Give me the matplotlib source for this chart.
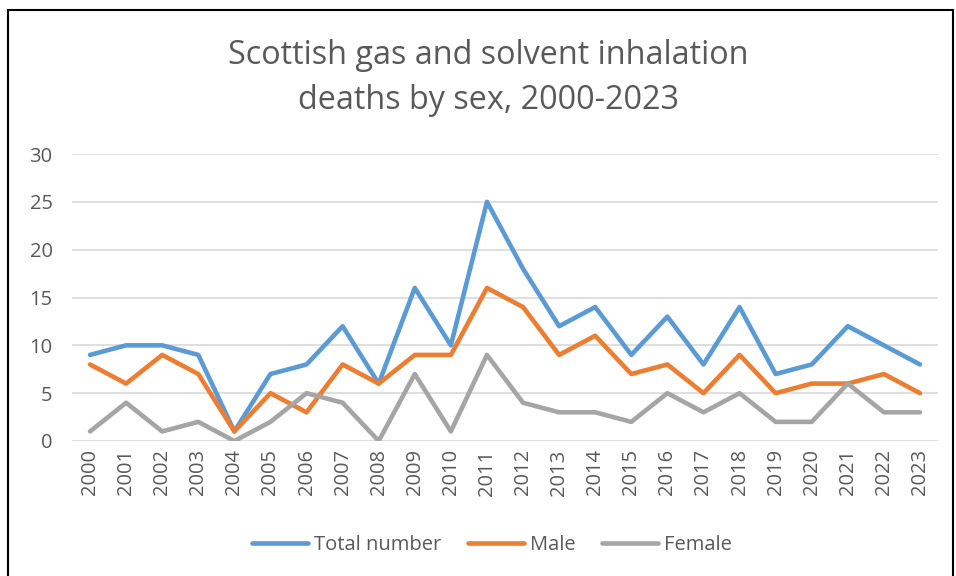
import matplotlib
matplotlib.use("Agg")
import matplotlib.pyplot as plt
from matplotlib.patches import Rectangle

years = [str(y) for y in range(2000, 2024)]
total = [9, 10, 10, 9, 1, 7, 8, 12, 6, 16, 10, 25, 18, 12, 14, 9, 13, 8, 14, 7, 8, 12, 10, 8]
male = [8, 6, 9, 7, 1, 5, 3, 8, 6, 9, 9, 16, 14, 9, 11, 7, 8, 5, 9, 5, 6, 6, 7, 5]
female = [1, 4, 1, 2, 0, 2, 5, 4, 0, 7, 1, 9, 4, 3, 3, 2, 5, 3, 5, 2, 2, 6, 3, 3]
yticks = [0, 5, 10, 15, 20, 25, 30]

plt.rcParams['font.family'] = ['Open Sans', 'DejaVu Sans']
W, H = 956, 576
fig = plt.figure(figsize=(W / 100, H / 100), dpi=100)
ax = fig.add_axes([72 / W, 1 - 441 / H, (938 - 72) / W, (441 - 154) / H])

x = list(range(len(years)))
kw = dict(lw=3.3, solid_joinstyle='round', solid_capstyle='round')
ax.plot(x, total, color='#5B9BD5', label='Total number', **kw)
ax.plot(x, male, color='#ED7D31', label='Male', **kw)
ax.plot(x, female, color='#A5A5A5', label='Female', **kw)

ax.set_xlim(-0.5, len(years) - 0.5)
ax.set_ylim(0, 30)
ax.set_yticks(yticks)
ax.set_xticks(x)
ax.set_xticklabels(years, rotation=90)
ax.tick_params(axis='both', length=0, labelsize=14.5, colors='#595959')
ax.tick_params(axis='y', pad=14)
ax.tick_params(axis='x', pad=6)
ax.grid(axis='y', color='#D9D9D9', lw=1.2)
ax.set_axisbelow(True)
for s in ax.spines.values():
    s.set_visible(False)

fig.text(488 / W, 1 - 78 / H, 'Scottish gas and solvent inhalation\ndeaths by sex, 2000-2023',
         ha='center', va='center', fontsize=23.3, color='#595959', linespacing=1.5)

leg = fig.legend(loc='center', bbox_to_anchor=(492 / W, 1 - 545 / H), ncol=3, frameon=False,
                 fontsize=14.5, handlelength=2.8, columnspacing=1.3, handletextpad=0.3)
for t in leg.get_texts():
    t.set_color('#595959')

fig.patches.append(Rectangle((8 / W, -0.01), (953 - 8) / W, 1 - 10 / H + 0.01, transform=fig.transFigure,
                             fill=False, edgecolor='black', lw=1.5))

fig.savefig('out.png', dpi=100)
